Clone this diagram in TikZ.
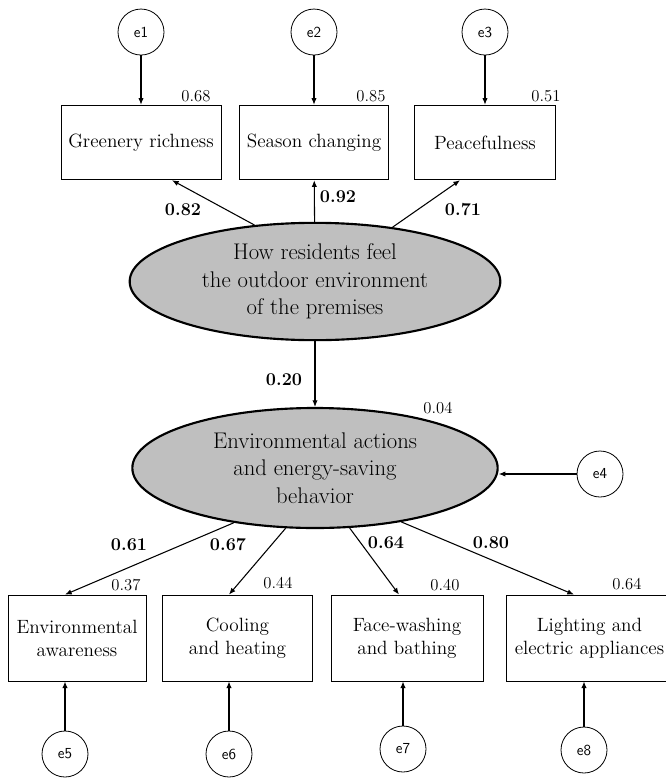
\documentclass[tikz,border=0pt]{standalone}
\usepackage{tikz}
\usetikzlibrary{arrows.meta,positioning,shapes.geometric,calc}

\begin{document}
\begin{tikzpicture}[
  x=0.75pt, y=-0.75pt,
  node distance=37pt,
  latent/.style={ellipse, draw, line width=1.6pt, fill=black!25, inner sep=0pt, align=center,
                 font=\fontsize{17}{20.6}\selectfont},
  obs/.style={rectangle, draw, line width=0.6pt, inner sep=0pt, align=center,
              minimum height=56pt, font=\fontsize{14.4}{17.3}\selectfont},
  err/.style={circle, draw, line width=0.6pt, minimum size=34.5pt, inner sep=0pt,
              font=\sffamily\fontsize{11.5}{13}\selectfont},
  coef/.style={inner sep=0pt, font=\bfseries\fontsize{13.5}{16}\selectfont},
  rsq/.style={inner sep=0pt, font=\fontsize{12.5}{15}\selectfont},
  arr/.style={-{Latex[length=5pt, width=4pt]}, line width=0.8pt}
]
\useasboundingbox (0,0) rectangle (665,778);

\node[latent, minimum width=278pt, minimum height=88pt] (outdoor) at (315,281.5) {How residents feel\\the outdoor environment\\of the premises};
\node[latent, minimum width=274pt, minimum height=90pt] (behavior) at (315,468) {Environmental actions\\and energy-saving\\behavior};

\node[obs, minimum width=120pt] (greenery) at (141,142.5) {Greenery richness};
\node[obs, minimum width=112pt] (season) at (314,142.5) {Season changing};
\node[obs, minimum width=106pt] (peace) at (485,142.5) {Peacefulness};
\node[err, above=of greenery] (e1) {e1};
\node[err, above=of season] (e2) {e2};
\node[err, above=of peace] (e3) {e3};

\node[obs, minimum width=103.5pt, minimum height=64.5pt] (aware) at (77,638) {Environmental\\awareness};
\node[obs, minimum width=112pt, minimum height=64.5pt] (cooling) at (237.5,638) {Cooling\\and heating};
\node[obs, minimum width=114pt, minimum height=64.5pt] (washing) at (407,638) {Face-washing\\and bathing};
\node[obs, minimum width=124pt, minimum height=64.5pt] (lighting) at (589.5,638) {Lighting and\\electric appliances};
\node[err] (e4) at (600,474) {e4};
\node[err] (e5) at (65,754) {e5};
\node[err] (e6) at (229,754) {e6};
\node[err] (e7) at (403,749) {e7};
\node[err] (e8) at (584,750) {e8};

\node[rsq] (r1) at (196,96) {0.68};
\node[rsq] (r2) at (371,96) {0.85};
\node[rsq] (r3) at (546,96) {0.51};
\node[rsq] (r4) at (438,408) {0.04};
\node[rsq] (r5) at (126,585) {0.37};
\node[rsq] (r6) at (278,583) {0.44};
\node[rsq] (r7) at (445,585) {0.40};
\node[rsq] (r8) at (627,584) {0.64};

\node[coef] (c1) at (183,210) {0.82};
\node[coef] (c2) at (338,197) {0.92};
\node[coef] (c3) at (463,210) {0.71};
\node[coef] (c4) at (284,380) {0.20};
\node[coef] (c5) at (129,545) {0.61};
\node[coef] (c6) at (228,545) {0.67};
\node[coef] (c7) at (386,543) {0.64};
\node[coef] (c8) at (491,543) {0.80};

\draw[arr] (e1) -- (greenery);
\draw[arr] (e2) -- (season);
\draw[arr] (e3) -- (peace);
\draw[arr] (outdoor.137) -- ($(greenery.south)+(31,0)$);
\draw[arr] (outdoor) -- (season);
\draw[arr] (outdoor.35) -- ($(peace.south)+(-25,0)$);
\draw[arr] (outdoor) -- (behavior);
\draw[arr] (e4) -- (behavior.east |- e4);
\draw[arr] (behavior.214) -- (e5 |- aware.north);
\draw[arr] (behavior.244) -- (e6 |- cooling.north);
\draw[arr] (behavior.300) -- ($(e7 |- washing.north)+(-4,0)$);
\draw[arr] (behavior.328) -- ($(e8 |- lighting.north)+(-10,0)$);
\draw[arr] (e5) -- (e5 |- aware.south);
\draw[arr] (e6) -- (e6 |- cooling.south);
\draw[arr] (e7) -- (e7 |- washing.south);
\draw[arr] (e8) -- (e8 |- lighting.south);
\end{tikzpicture}
\end{document}
